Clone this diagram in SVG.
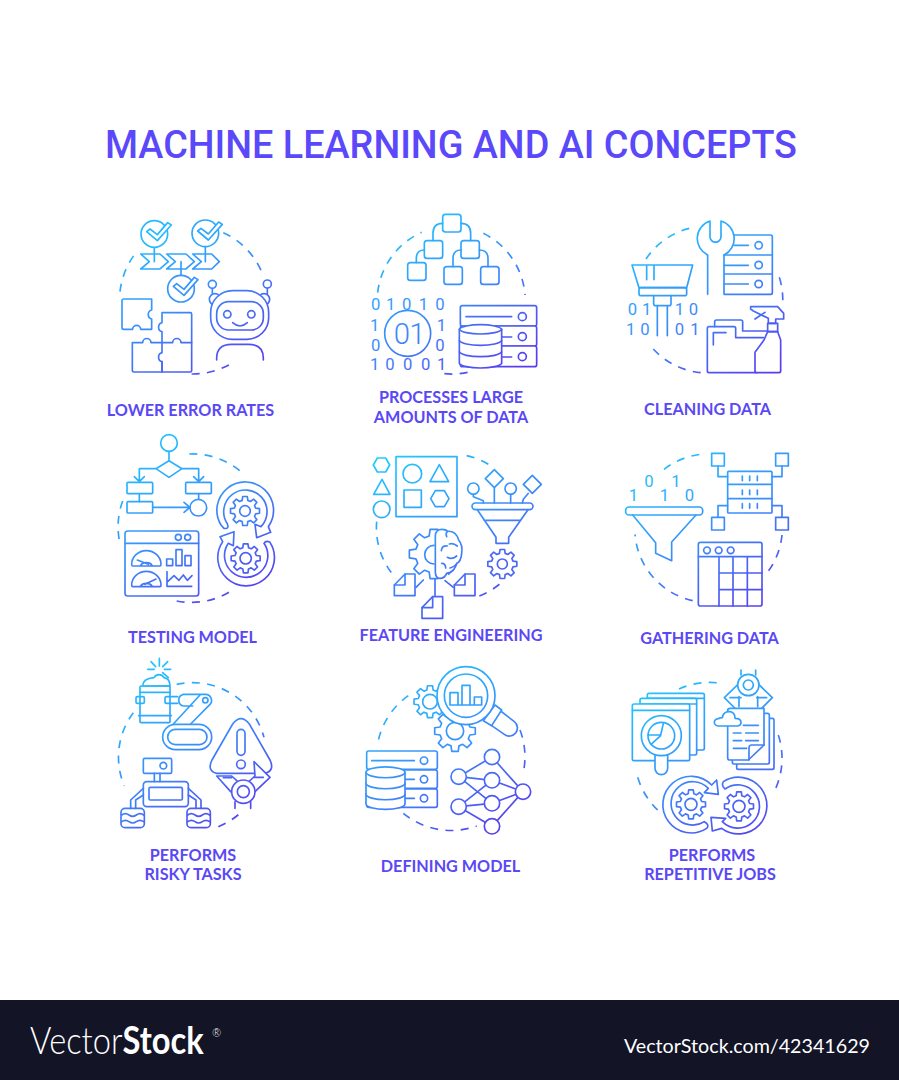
<svg xmlns="http://www.w3.org/2000/svg" width="899" height="1080" viewBox="0 0 899 1080">
<style>
.i{fill:none;stroke:url(#g);stroke-width:5;stroke-linecap:round;stroke-linejoin:round}
.w{fill:#fff}
.d{stroke-dasharray:24 22;stroke-linecap:butt}
.t{stroke:none;fill:url(#g);font-family:Roboto,"Liberation Sans",sans-serif;font-weight:400;font-size:50px;text-anchor:middle}
.l{fill:#5a48f5;font-family:Lato,"Liberation Sans",sans-serif;font-weight:700;font-size:16.2px;text-anchor:middle}
</style>
<defs>
<linearGradient id="g" gradientUnits="userSpaceOnUse" x1="100" y1="30" x2="430" y2="540">
<stop offset="0" stop-color="#1fcbff"/><stop offset=".5" stop-color="#3a8ffb"/><stop offset="1" stop-color="#5a3bf0"/>
</linearGradient>
<g id="gear"><polygon points="31.9,8.5 28.6,16.5 35.6,25.9 25.9,35.6 16.5,28.6 8.5,31.9 6.9,43.5 -6.9,43.5 -8.5,31.9 -16.5,28.6 -25.9,35.6 -35.6,25.9 -28.6,16.5 -31.9,8.5 -43.5,6.9 -43.5,-6.9 -31.9,-8.5 -28.6,-16.5 -35.6,-25.9 -25.9,-35.6 -16.5,-28.6 -8.5,-31.9 -6.9,-43.5 6.9,-43.5 8.5,-31.9 16.5,-28.6 25.9,-35.6 35.6,-25.9 28.6,-16.5 31.9,-8.5 43.5,-6.9 43.5,6.9"/></g>
<g id="chk"><circle r="40" fill="#fff"/><path fill="#fff" d="M-23,-7 L-13,-15 L9,2 L40,-34 L51,-27 L9,20 Z"/></g>
</defs>
<rect width="899" height="1080" fill="#fff"/>
<text x="451" y="158" textLength="692" lengthAdjust="spacingAndGlyphs" style="font-family:Roboto,'Liberation Sans',sans-serif;font-weight:500;font-size:38px;text-anchor:middle" fill="#5a48fa">MACHINE LEARNING AND AI CONCEPTS</text>

<g id="lower-error-rates" class="i" transform="translate(100 200) scale(.33333)">
<path class="d" d="M60,275 A228 228 0 0 1 108,158 M370,98 A228 228 0 0 1 490,228 M275,522 A228 228 0 0 0 400,487"/>
<path d="M122,162 H180 L205,185 L180,207 H122 L148,185 Z M200,162 H258 L283,185 L258,207 H200 L226,185 Z M278,162 H335 L358,185 L335,207 H278 L304,185 Z"/>
<path d="M163,142 V185 M316,140 V185 M243,185 V226"/>
<use href="#chk" x="163" y="102" stroke="#27bafe"/><use href="#chk" x="316" y="100" stroke="#2ea8fd"/><use href="#chk" x="243" y="266" stroke="#3795fb"/>
<path d="M66,302 q0-5 5-5 H155 V330 a14 14 0 0 0 0 27 V388 H122 a12 12 0 0 0 -24 0 H71 q-5 0-5-5 Z"/>
<path d="M186,338 H271 q4 0 4 4 V428 H243 a12 12 0 0 0 -25 0 H186 V395 a14 14 0 0 1 0 -27 Z"/>
<path d="M97,428 H128 a12 12 0 0 1 25 0 H186 V458 a14 14 0 0 0 0 27 V516 H102 q-5 0-5-5 Z"/>
<path d="M186,485 V516 H271 q4 0 4-4 V428"/>
<circle cx="345" cy="298" r="17"/><circle cx="492" cy="298" r="17"/>
<rect class="w" x="332" y="272" width="174" height="146" rx="65"/>
<rect x="350" y="305" width="140" height="85" rx="36"/>
<circle cx="382" cy="343" r="11"/><circle cx="454" cy="343" r="11"/>
<path d="M398,368 q22,20 44,0"/>
<circle cx="337" cy="253" r="12"/><circle cx="502" cy="252" r="12"/><path d="M337,266 V282 M502,265 V282"/>
<path d="M350,480 v-5 q0-42 45-42 h50 q45 0 45 42 v5"/>
</g>

<g id="processes-large-amounts-of-data" class="i" transform="translate(360 200) scale(.33333)">
<path class="d" d="M53,278 A225 225 0 0 1 185,97 M370,100 A225 225 0 0 1 495,285 M253,521 A225 225 0 0 0 332,515"/>
<path d="M248,70 q-29,0-29,30 V122 M303,70 q29,0 29,30 V122 M193,150 q-24,0-24,25 V188 M303,150 q-24,0-24,25 V200 M358,150 q26,0 26,25 V200"/>
<rect x="248" y="43" width="55" height="53" rx="8"/><rect x="193" y="122" width="55" height="53" rx="8"/><rect x="303" y="122" width="55" height="53" rx="8"/><rect x="143" y="188" width="55" height="53" rx="8"/><rect x="252" y="200" width="55" height="53" rx="8"/><rect x="362" y="200" width="55" height="53" rx="8"/>
<text class="t" x="47" y="331">0</text><text class="t" x="92" y="331">1</text><text class="t" x="140" y="331">0</text><text class="t" x="190" y="331">1</text><text class="t" x="240" y="331">0</text>
<text class="t" x="44" y="392">1</text><text class="t" x="244" y="392">1</text>
<text class="t" x="47" y="452">0</text><text class="t" x="240" y="452">0</text>
<text class="t" x="44" y="511">1</text><text class="t" x="90" y="511">0</text><text class="t" x="143" y="511">0</text><text class="t" x="197" y="511">0</text><text class="t" x="245" y="511">1</text>
<circle class="w" cx="143" cy="400" r="69"/>
<text class="t" x="148" y="433" style="font-size:88px;font-weight:300;letter-spacing:-2px">01</text>
<rect class="w" x="301" y="317" width="229" height="61" rx="6"/><rect class="w" x="301" y="378" width="229" height="60" rx="6"/><rect class="w" x="301" y="438" width="229" height="62" rx="6"/>
<path d="M318,350 H455 M425,411 H455 M425,471 H455"/><circle cx="487" cy="350" r="12"/><circle cx="487" cy="410" r="12"/><circle cx="487" cy="470" r="12"/>
<path class="w" d="M298,388 a64 16 0 0 1 127 0 V490 a64 16 0 0 1 -127 0 Z"/>
<path d="M298,388 a64 16 0 0 0 127 0 M298,422 a64 16 0 0 0 127 0 M298,456 a64 16 0 0 0 127 0"/>
</g>

<g id="cleaning-data" class="i" transform="translate(610 205) scale(.33333)">
<path class="d" d="M108,162 A222 222 0 0 1 258,66 M508,217 A222 222 0 0 1 518,295 M272,503 A222 222 0 0 1 118,418"/>
<path d="M66,180 H248 L230,248 H87 Z M110,182 V224 M132,182 V224"/>
<rect x="87" y="248" width="143" height="24" rx="6"/>
<path d="M131,272 V296 q0,6 6,6 H177 q6,0 6-6 V272 M142,302 V392 M172,302 V392"/>
<text class="t" x="67" y="329">0</text><text class="t" x="110" y="329">1</text><text class="t" x="208" y="329">1</text><text class="t" x="250" y="329">0</text>
<text class="t" x="62" y="389">1</text><text class="t" x="105" y="389">0</text><text class="t" x="208" y="389">0</text><text class="t" x="255" y="389">1</text>
<path d="M293,268 V150 A55 55 0 0 1 300,48 V95 a16.500 16.500 0 0 0 33 0 V48 A55 55 0 0 1 342,150"/>
<path d="M372,90 H482 q5,0 5,5 V150 M342,150 H487 V207 H342 Z M342,207 V268 H482 q5,0 5-5 V207"/>
<path d="M372,121 H415 M342,181 H415 M342,237 H415"/><circle cx="446" cy="121" r="11"/><circle cx="446" cy="180" r="11"/><circle cx="446" cy="237" r="11"/>
<path d="M314,365 V350 q0-5 5-5 H393 q5,0 5,5 V378 H470"/>
<path d="M292,370 q0-5 5-5 H372 q5,0 5,5 V398 H460 M297,503 q-5,0-5-5 V370 M297,503 H440 M310,420 V383 H348"/>
<path class="w" d="M473,380 L462,405 L435,442 V498 q0,5 5,5 H507 q5,0 5-5 V405 L503,380 Z"/>
<rect x="473" y="355" width="30" height="25"/>
<path d="M422,312 V305 H503 L521,325 V342 H497 V355 H475 V340 L430,318 Z M435,342 L465,322"/>
</g>

<g id="testing-model" class="i" transform="translate(100 425) scale(.33333)">
<path class="d" d="M268,87 A225 225 0 0 1 432,148 M68,228 A225 225 0 0 0 60,356 M230,528 A225 225 0 0 0 405,490"/>
<circle cx="207" cy="54" r="25"/><path d="M207,79 V107 M168,131 L207,107 L246,131 L207,157 Z M168,131 H118 V170 M103,155 L118,170 L133,155 M246,131 H296 V170 M281,155 L296,170 L311,155"/>
<rect x="81" y="172" width="77" height="34" rx="3"/><rect x="257" y="172" width="77" height="34" rx="3"/><rect x="81" y="230" width="77" height="34" rx="3"/>
<path d="M118,206 V230 M296,206 V223 M158,247 H268 M252,232 L270,247 L252,262"/><circle cx="295" cy="248" r="25"/>
<rect x="75" y="318" width="221" height="195" rx="8"/><path d="M75,355 H296"/><circle cx="235" cy="337" r="9"/><circle cx="263" cy="337" r="9"/>
<path d="M95,418 a44 41 0 0 1 88 0 q0,5 -3,5 H98 q-3,0-3-5 Z M122,421 a18 12 0 0 1 34 0 M112,405 L145,418"/>
<path d="M95,480 a44 41 0 0 1 88 0 q0,5 -3,5 H98 q-3,0-3-5 Z M122,483 a18 12 0 0 1 34 0 M135,478 L168,462"/>
<path d="M200,402 H218 V422 H200 Z M228,374 H246 V422 H228 Z M255,392 H273 V422 H255 Z"/>
<path d="M201,440 V484 H275 M203,470 L222,452 L237,466 L250,450 L262,466 L276,452"/>
<use href="#gear" x="435" y="258" stroke="#4080f8"/><circle cx="435" cy="258" r="16"/>
<path d="M363,300 A85 85 0 1 1 505,305 L512,322 L470,338 L465,298 L483,305 A65 65 0 1 0 382,296 L384,304 Q384,312 372,310 Z"/>
<use href="#gear" x="437" y="400" stroke="#4d60f4"/><circle cx="437" cy="400" r="17"/>
<path d="M510,352 A85 85 0 1 1 368,350 L360,335 L402,320 L400,362 L385,355 A65 65 0 1 0 492,355 Q498,345 510,352 Z"/>
</g>

<g id="feature-engineering" class="i" transform="translate(360 440) scale(.33333)">
<path class="d" d="M320,47 A225 225 0 0 1 392,77 M50,245 A225 225 0 0 0 108,415 M358,468 A225 225 0 0 0 425,427"/>
<path d="M40,75 L52,54 H77 L89,75 L77,96 H52 Z M66,118 L41,163 H90 Z"/><circle cx="65" cy="208" r="25"/>
<rect x="108" y="50" width="183" height="180"/>
<circle cx="157" cy="101" r="28"/><path d="M238,74 L210,125 H266 Z M212,176 L226,152 H253 L267,176 L253,200 H226 Z"/><rect x="132" y="150" width="52" height="52"/>
<rect x="336" y="189" width="183" height="20" rx="10"/>
<path d="M352,209 L408,292 V310 H446 V292 L504,209 M372,241 H482"/>
<circle cx="340" cy="146" r="17"/><path d="M340,163 V170 L370,182 V189 M403,143 V189 M452,163 V189 M505,160 L490,178 L487,189"/>
<path d="M403,89 L430,116 L403,143 L376,116 Z M517,106 L544,133 L517,160 L490,133 Z"/><circle cx="452" cy="146" r="17"/>
<use href="#gear" x="427" y="372" stroke="#4c66f5"/><circle cx="427" cy="372" r="15"/>
<use href="#gear" transform="translate(222 342) scale(1.7)" stroke="#3c88fa" stroke-width="2.9" fill="#fff"/>
<path d="M222,316 a28 28 0 0 0 0,56"/>
<path class="w" d="M226,288 q0,-20 20,-20 q12,0 16,6 q26,-2 34,26 q13,16 9,40 q-2,25-15,30 q-5,25-30,30 q-6,15-20,15 q-14,0-14-20 Z"/>
<path d="M262,274 q-6,8 -2,16 M262,318 q-16,-2 -18,14 M268,312 q12,-4 24,6 M262,352 q14,8 28,-4 M245,370 q12,0 12,14 M270,384 q12,-2 20,-12"/>
<path class="w" d="M135,402 H165 V467 H103 V435 Z M315,402 H345 V467 H283 V435 Z M218,470 H248 V535 H186 V503 Z"/>
<path d="M135,402 V435 H103 M315,402 V435 H283 M218,470 V503 H186 M168,442 L190,420 M225,418 V468 M255,422 L280,442"/>
</g>

<g id="gathering-data" class="i" transform="translate(610 440) scale(.33333)">
<path class="d" d="M162,88 A222 222 0 0 1 282,42 M248,482 A222 222 0 0 1 75,283 M516,285 A222 222 0 0 1 467,404"/>
<text class="t" x="117" y="141">0</text><text class="t" x="198" y="141">1</text><text class="t" x="70" y="183">1</text><text class="t" x="163" y="183">1</text><text class="t" x="238" y="183">0</text>
<rect x="47" y="201" width="231" height="24" rx="10"/>
<path d="M68,225 L137,308 V340 L185,362 V306 L258,225"/>
<rect x="353" y="94" width="133" height="125" rx="3"/><path d="M353,133 H486 M353,176 H486 M397,108 V122 M419,108 V122 M442,108 V122 M397,150 V164 M419,150 V164 M442,150 V164 M397,191 V205 M419,191 V205 M442,191 V205"/>
<rect x="305" y="40" width="38" height="38"/><rect x="497" y="40" width="38" height="38"/><rect x="305" y="232" width="38" height="38"/><rect x="497" y="232" width="38" height="38"/>
<path d="M324,78 V110 H353 M516,78 V110 H486 M353,197 H324 V232 M486,197 H516 V232"/>
<rect x="265" y="307" width="191" height="191" rx="6"/><path d="M265,350 H456 M327,350 V498 M369,350 V498 M412,350 V498 M327,399 H456 M327,449 H456"/>
<circle cx="291" cy="331" r="10"/><circle cx="326" cy="331" r="10"/><circle cx="362" cy="331" r="10"/>
</g>

<g id="performs-risky-tasks" class="i" transform="translate(100 650) scale(.33333)">
<path class="d" d="M230,103 A222 222 0 0 1 492,262 M100,188 A222 222 0 0 0 73,408 M355,530 A222 222 0 0 0 420,490"/>
<path d="M178,25 V48 M153,35 L167,50 M203,35 L188,50 M143,58 H163 M212,58 H193 M205,83 L188,68"/>
<path d="M162,83 a17 17 0 0 1 30 0 q18,3 18,25 H128 q0-22 34-25 Z"/>
<rect x="120" y="108" width="90" height="110" rx="3"/><path d="M120,127 H210 M116,197 H214"/>
<rect x="108" y="140" width="25" height="20" rx="4"/><path d="M233,140 H200 q-5,0-5,5 v10 q0,5 5,5 H233"/>
<path d="M300,135 L220,222 M250,133 H316 a18 18 0 0 1 14,30 L272,222 M250,133 A18 18 0 0 0 250,168 H278"/><circle cx="316" cy="151" r="8"/>
<rect class="w" x="188" y="223" width="147" height="76" rx="38"/><rect x="203" y="238" width="118" height="46" rx="23"/>
<path d="M398,222 Q423,190 448,222 L510,330 Q525,362 495,370 L350,370 Q320,362 336,330 Z"/>
<rect x="411" y="238" width="24" height="78" rx="12"/><circle cx="423" cy="343" r="13"/>
<path class="w" d="M350,378 H395 L430,410 L465,378 L462,335 L510,382 L465,425 L430,440 L392,425 Z"/>
<path d="M370,383 H395 M462,382 H490 M405,455 V475 M452,455 V475"/>
<circle class="w" cx="430" cy="425" r="35"/><circle cx="430" cy="425" r="18"/>
<rect x="130" y="325" width="85" height="45" rx="4"/><circle cx="190" cy="347" r="10"/><path d="M163,370 V395 M180,370 V395"/>
<rect x="130" y="395" width="135" height="75" rx="10"/><rect x="147" y="412" width="100" height="38" rx="4"/>
<path d="M130,415 L92,450 V475 M130,435 L107,450 V475 M265,415 L303,450 V475 M265,435 L288,450 V475"/>
<rect x="63" y="475" width="70" height="58" rx="12"/><rect x="261" y="475" width="70" height="58" rx="12"/>
<path d="M65,495 q11,-8 22,0 t22,0 t22,0 M65,515 q11,-8 22,0 t22,0 t22,0 M263,495 q11,-8 22,0 t22,0 t22,0 M263,515 q11,-8 22,0 t22,0 t22,0"/>
</g>

<g id="defining-model" class="i" transform="translate(355 655) scale(.33333)">
<path class="d" d="M160,122 A225 225 0 0 0 67,272 M145,475 A225 225 0 0 0 365,513 M495,225 A225 225 0 0 1 505,352"/>
<use href="#gear" transform="translate(225 140) scale(1.1)" stroke="#2dadfd" stroke-width="4.5"/><circle cx="225" cy="140" r="22"/>
<use href="#gear" transform="translate(300 228) scale(1.4)" stroke="#3795fb" stroke-width="3.6" fill="#fff"/><circle cx="300" cy="228" r="26"/>
<path class="w" d="M437,168 L478,200 a24 24 0 0 1 -30,38 L410,212"/>
<path class="w" d="M420,150 L440,165 L410,212 L385,197 Z"/>
<circle class="w" cx="333" cy="122" r="87"/><circle cx="333" cy="122" r="65"/>
<path d="M285,150 V113 H309 V150 M321,150 V91 H345 V150 M358,150 V126 H380 V150 M285,150 H380"/>
<rect class="w" x="35" y="288" width="212" height="55" rx="6"/><rect class="w" x="35" y="345" width="212" height="55" rx="6"/><rect class="w" x="35" y="402" width="212" height="55" rx="6"/>
<path d="M50,317 H178 M150,373 H178 M150,430 H178"/><circle cx="207" cy="317" r="11"/><circle cx="207" cy="373" r="11"/><circle cx="207" cy="430" r="11"/>
<path class="w" d="M33,352 a58 16 0 0 1 117 0 V447 a58 16 0 0 1 -117 0 Z"/>
<path d="M33,352 a58 16 0 0 0 117 0 M33,385 a58 16 0 0 0 117 0 M33,418 a58 16 0 0 0 117 0"/>
<path d="M311,365 L411,306 M311,365 L411,376 M311,365 L411,445 M311,455 L411,376 M311,455 L411,445 M311,455 L411,514 M411,306 L504,410 M411,376 L504,410 M411,445 L504,410 M411,514 L504,410"/>
<circle class="w" cx="311" cy="365" r="23"/><circle class="w" cx="311" cy="455" r="23"/><circle class="w" cx="411" cy="306" r="23"/><circle class="w" cx="411" cy="376" r="23"/><circle class="w" cx="411" cy="445" r="23"/><circle class="w" cx="411" cy="514" r="23"/><circle class="w" cx="504" cy="410" r="23"/>
</g>

<g id="performs-repetitive-jobs" class="i" transform="translate(615 665) scale(.33333)">
<path class="d" d="M192,72 A225 225 0 0 1 320,55 M490,210 A225 225 0 0 1 475,385 M128,435 A225 225 0 0 1 65,325"/>
<rect class="w" x="97" y="85" width="171" height="170" rx="5"/><path d="M97,100 H268"/>
<rect class="w" x="75" y="100" width="170" height="170" rx="5"/><path d="M75,117 H245"/>
<rect class="w" x="52" y="117" width="172" height="170" rx="5"/><path d="M52,136 H224"/>
<path class="w" d="M120,270 V310 a19 19 0 0 0 38 0 V270"/>
<circle class="w" cx="139" cy="212" r="60"/><circle cx="139" cy="212" r="40"/>
<path d="M100,210 H137 L145,175 M137,212 L108,238"/>
<path d="M378,15 V30 M422,15 V30"/>
<path d="M372,55 L328,98 L365,135 M428,55 L472,98 L440,130 M345,98 H378 M425,98 H455 M372,95 V125 M428,95 V125"/>
<circle class="w" cx="400" cy="60" r="32"/><circle cx="400" cy="60" r="15"/>
<rect class="w" x="365" y="160" width="112" height="153" rx="5"/>
<rect class="w" x="352" y="145" width="111" height="152" rx="5"/>
<path class="w" d="M345,130 H447 V240 L400,285 H345 q-7,0-7-7 V137 q0-7 7-7 Z"/>
<path d="M447,240 H410 q-8,0-8,8 V285 M385,181 H430 M355,204 H378 M392,204 H430 M355,227 H380 M392,227 H430 M355,250 H395"/>
<path class="w" d="M312,183 a13 11 0 0 1 -2,-22 q5,-3 12,-3 q3,-18 20,-18 q18,0 18,20 q18,0 18,12 a11 11 0 0 1 -10,11 Z"/>
<use href="#gear" x="228" y="418" stroke="#4278f9"/><circle cx="228" cy="418" r="18"/>
<path d="M275,490 A85 85 0 1 1 290,360 L305,345 L310,388 L268,383 L280,370 A65 65 0 1 0 268,470 Q285,480 275,490 Z"/>
<use href="#gear" x="372" y="424" stroke="#4d62f5"/><circle cx="372" cy="424" r="18"/>
<path d="M325,350 A85 85 0 1 1 320,490 L292,498 L288,457 L332,460 L322,470 A65 65 0 1 0 330,372 Q318,362 325,350 Z"/>
</g>

<g id="labels">
<text class="l" x="190.500" y="416">LOWER ERROR RATES</text>
<text class="l" x="451" y="403">PROCESSES LARGE</text><text class="l" x="451" y="423">AMOUNTS OF DATA</text>
<text class="l" x="707.500" y="415">CLEANING DATA</text>
<text class="l" x="192.500" y="643">TESTING MODEL</text>
<text class="l" x="451" y="641">FEATURE ENGINEERING</text>
<text class="l" x="709.500" y="644">GATHERING DATA</text>
<text class="l" x="193" y="861">PERFORMS</text><text class="l" x="193" y="880">RISKY TASKS</text>
<text class="l" x="450.500" y="872">DEFINING MODEL</text>
<text class="l" x="712" y="861">PERFORMS</text><text class="l" x="710" y="880">REPETITIVE JOBS</text>
</g>

<g id="footer">
<rect y="1000" width="899" height="80" fill="#131426"/>
<text transform="translate(30 1054) scale(.86 1)" fill="#fff" style="font-family:Lato,'Liberation Sans',sans-serif;font-size:38px;font-weight:300">Vector<tspan font-weight="700">Stock</tspan></text>
<text x="212" y="1037" fill="#fff" style="font-family:Lato,'Liberation Sans',sans-serif;font-size:11px;font-weight:300">®</text>
<text x="624" y="1053" fill="#fff" style="font-family:Lato,'Liberation Sans',sans-serif;font-size:20px" textLength="246" lengthAdjust="spacingAndGlyphs">VectorStock.com/42341629</text>
</g>
</svg>
